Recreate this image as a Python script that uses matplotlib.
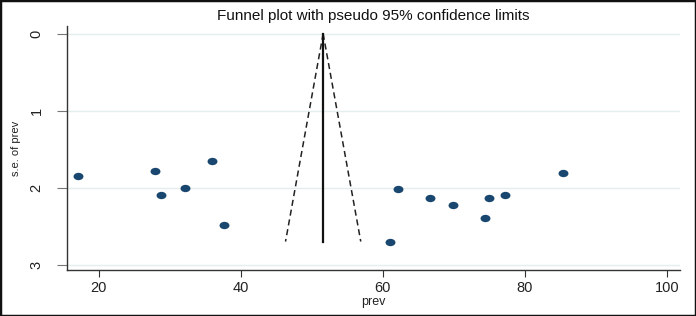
import matplotlib.pyplot as plt
import numpy as np
from matplotlib.markers import MarkerStyle
from matplotlib.transforms import Affine2D
from matplotlib.patches import Rectangle

plt.rcParams['font.family'] = ['Liberation Sans', 'DejaVu Sans']

# study estimates
prev = [17.1, 27.9, 28.8, 32.1, 36.0, 37.7,
        61.0, 62.1, 66.7, 69.9, 74.4, 75.0, 77.2, 85.4]
se_prev = [1.85, 1.79, 2.10, 2.00, 1.65, 2.49,
           2.70, 2.02, 2.13, 2.23, 2.40, 2.14, 2.10, 1.81]

theta = 51.6      # pooled estimate (vertical line)
se_max = 2.7      # funnel drawn down to this s.e.

fig = plt.figure(figsize=(6.96, 3.16), dpi=100)
ax = fig.add_axes([0.0963, 0.1456, 0.881, 0.772])

# pseudo 95% limits
se_line = np.array([0, se_max])
ax.plot(theta - 1.96 * se_line, se_line, color='#222222', lw=1.1, ls=(0, (4, 2.5)))
ax.plot(theta + 1.96 * se_line, se_line, color='#222222', lw=1.1, ls=(0, (4, 2.5)))
ax.plot([theta, theta], [0, se_max], color='#111111', lw=1.6)

mk = MarkerStyle('o', transform=Affine2D().scale(1.35, 1.0))
ax.scatter(prev, se_prev, marker=mk, s=28, color='#1a476f', zorder=3, linewidths=0)

ax.set_xlim(15.57, 101.83)
ax.set_ylim(3.07, -0.1)
ax.set_xticks([20, 40, 60, 80, 100])
ax.set_yticks([0, 1, 2, 3])
ax.set_yticklabels(['0', '1', '2', '3'], rotation=90, va='center')
ax.grid(axis='y', color='#e4eeee', lw=1)
ax.set_axisbelow(True)

for s in ['top', 'right']:
    ax.spines[s].set_visible(False)
for s in ['left', 'bottom']:
    ax.spines[s].set_color('#333333')
    ax.spines[s].set_linewidth(1.0)
ax.tick_params(axis='y', length=7, color='#777777', labelsize=10.5, pad=10, labelcolor='#222222')
ax.tick_params(axis='x', length=5, color='#333333', labelsize=10.5, pad=3, labelcolor='#222222')

ax.set_xlabel('prev', fontsize=9, labelpad=1, color='#222222')
ax.set_ylabel('s.e. of prev', fontsize=8, labelpad=6, color='#222222')
fig.text(0.536, 0.948, 'Funnel plot with pseudo 95% confidence limits',
         ha='center', va='center', fontsize=11, color='#111111')

fig.patches.append(Rectangle((0, 0), 1, 1, transform=fig.transFigure,
                             fill=False, edgecolor='#111111', lw=2.5))

fig.savefig('out.png', dpi=100)
